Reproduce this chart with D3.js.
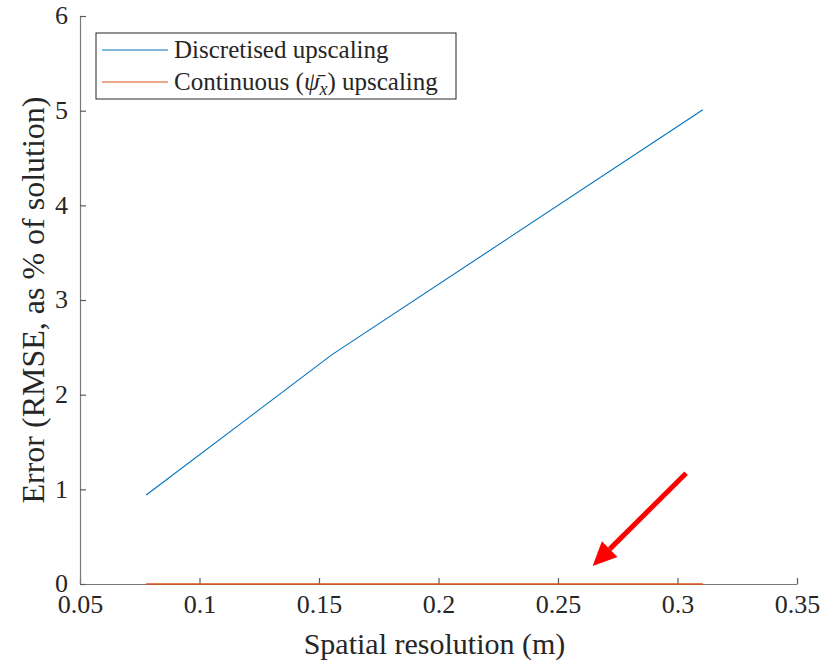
<!DOCTYPE html>
<html>
<head>
<meta charset="utf-8">
<script src="https://cdn.jsdelivr.net/npm/d3@7"></script>
<style>
  body { margin: 0; background: #fff; }
  svg { display: block; }
</style>
</head>
<body>
<div class="chart"></div>
<script>
// spatial resolution (m) of each upscaled grid
const resolution = [0.0777, 0.1553, 0.3106];
// RMSE as % of solution
const discretised = [0.94, 2.42, 5.01];
const continuous = [0, 0, 0];

const xTicks = [0.05, 0.1, 0.15, 0.2, 0.25, 0.3, 0.35];
const yTicks = [0, 1, 2, 3, 4, 5, 6];

const seriesNames = ['Discretised upscaling', 'Continuous'];
const colors = ['#0072bd', '#d95319'];

// arrow annotation, in data units: [x, y] tail then head
const arrowFrom = [0.3036, 1.17];
const arrowTo = [0.2645, 0.19];

const serif = "'Liberation Serif', 'DejaVu Serif', serif";
const textColor = '#262626';

const svgWidth = 828;
const svgHeight = 665;
const margin = { top: 16, right: 31, bottom: 81, left: 80 };
const width = svgWidth - margin.left - margin.right;
const height = svgHeight - margin.top - margin.bottom;

const x = d3.scaleLinear().domain([0.05, 0.35]).range([0, width]);
const y = d3.scaleLinear().domain([0, 6]).range([height, 0]);

const svg = d3.select('.chart').append('svg')
  .attr('width', svgWidth)
  .attr('height', svgHeight);

const g = svg.append('g')
  .attr('transform', `translate(${margin.left},${margin.top})`);

// axes: ticks point inward like matlab
const xAxis = g.append('g')
  .attr('transform', `translate(0,${height})`)
  .call(d3.axisBottom(x).tickValues(xTicks).tickSize(-6).tickSizeOuter(0)
    .tickFormat(d3.format('')));
const yAxis = g.append('g')
  .call(d3.axisLeft(y).tickValues(yTicks).tickSize(-6).tickSizeOuter(0)
    .tickFormat(d3.format('')));

[xAxis, yAxis].forEach(ax => {
  ax.select('.domain').attr('stroke', '#7a7a7a').attr('stroke-width', 1.2);
  ax.selectAll('.tick line').attr('stroke', '#5a5a5a').attr('stroke-width', 1.2);
  ax.selectAll('.tick text')
    .style('font-family', serif)
    .style('font-size', '26px')
    .style('fill', textColor);
});
xAxis.selectAll('.tick text').attr('dy', '0.95em').attr('y', 4);
yAxis.selectAll('.tick text').attr('x', -12).attr('dy', '0.3em');

// axis titles
g.append('text')
  .attr('x', width / 2 - 4)
  .attr('y', height + 70)
  .attr('text-anchor', 'middle')
  .style('font-family', serif)
  .style('font-size', '30px')
  .style('fill', textColor)
  .text('Spatial resolution (m)');

g.append('text')
  .attr('transform', `translate(${-36},${height / 2}) rotate(-90)`)
  .attr('text-anchor', 'middle')
  .style('font-family', serif)
  .style('font-size', '32px')
  .style('fill', textColor)
  .text('Error (RMSE, as % of solution)');

const line = d3.line()
  .x((d, i) => x(resolution[i]))
  .y(d => y(d));

g.append('path')
  .datum(discretised)
  .attr('fill', 'none')
  .attr('stroke', colors[0])
  .attr('stroke-width', 1.1)
  .attr('d', line);

g.append('path')
  .datum(continuous)
  .attr('fill', 'none')
  .attr('stroke', colors[1])
  .attr('stroke-width', 1.6)
  .attr('d', line);

// legend
const legend = g.append('g').attr('transform', 'translate(16,17)');
legend.append('rect')
  .attr('width', 360).attr('height', 66)
  .attr('fill', '#fff').attr('stroke', '#262626').attr('stroke-width', 1);

seriesNames.forEach((name, i) => {
  const row = legend.append('g').attr('transform', `translate(0,${17 + i * 32})`);
  row.append('line')
    .attr('x1', 6).attr('x2', 72)
    .attr('stroke', colors[i]).attr('stroke-width', 1.1);
  const t = row.append('text')
    .attr('x', 78).attr('y', 8)
    .style('font-family', serif)
    .style('font-size', '25px')
    .style('fill', textColor);
  if (i === 0) {
    t.text(name);
  } else {
    t.append('tspan').text(name + ' (');
    t.append('tspan').style('font-style', 'italic').text('\u03c8\u0304');
    t.append('tspan').style('font-style', 'italic').style('font-size', '18px')
      .attr('dy', 5).text('x');
    t.append('tspan').attr('dy', -5).text(') upscaling');
  }
});

// red arrow annotation
const ax0 = x(arrowFrom[0]), ay0 = y(arrowFrom[1]);
const ax1 = x(arrowTo[0]), ay1 = y(arrowTo[1]);
const ang = Math.atan2(ay1 - ay0, ax1 - ax0);
const headLen = 24, headHalf = 11;
const bx = ax1 - headLen * Math.cos(ang), by = ay1 - headLen * Math.sin(ang);
g.append('line')
  .attr('x1', ax0).attr('y1', ay0)
  .attr('x2', bx).attr('y2', by)
  .attr('stroke', '#ff0000').attr('stroke-width', 5);
g.append('path')
  .attr('fill', '#ff0000')
  .attr('d', `M${ax1},${ay1}` +
    `L${bx + headHalf * Math.sin(ang)},${by - headHalf * Math.cos(ang)}` +
    `L${bx - headHalf * Math.sin(ang)},${by + headHalf * Math.cos(ang)}Z`);
</script>
</body>
</html>
